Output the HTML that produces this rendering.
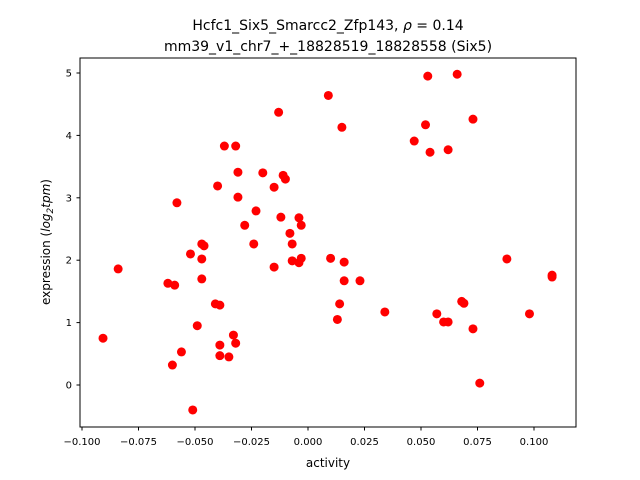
<!DOCTYPE html>
<html><head><meta charset="utf-8"><style>
html,body{margin:0;padding:0;background:#fff;}
svg{display:block;font-family:"DejaVu Sans","Liberation Sans",sans-serif;}
</style></head><body>
<svg id="chart" width="640" height="480" viewBox="0 0 640 480">
<rect width="640" height="480" fill="#fff"/>
<text x="328" y="30" text-anchor="middle" font-size="14">Hcfc1_Six5_Smarcc2_Zfp143, <tspan font-style="italic">ρ</tspan> = 0.14</text>
<text x="328" y="51" text-anchor="middle" font-size="14">mm39_v1_chr7_+_18828519_18828558 (Six5)</text>
<g id="ticks"></g>
<g id="points"></g>
<rect x="80" y="58" width="496" height="369" fill="none" stroke="#000" stroke-width="1"/>
<text x="328" y="467" text-anchor="middle" font-size="12">activity</text>
<text transform="translate(50,242) rotate(-90)" text-anchor="middle" font-size="12">expression (<tspan font-style="italic">log</tspan><tspan font-style="italic" font-size="9" dy="3">2</tspan><tspan font-style="italic" dy="-3">tpm</tspan>)</text>
</svg>
<script>
const activity=[-0.0907,-0.084,-0.062,-0.059,-0.058,-0.060,-0.056,-0.052,-0.051,-0.049,-0.047,-0.046,-0.047,-0.047,-0.041,-0.039,-0.040,-0.039,-0.039,-0.037,-0.035,-0.033,-0.032,-0.032,-0.031,-0.031,-0.028,-0.024,-0.023,-0.020,-0.015,-0.015,-0.013,-0.012,-0.011,-0.010,-0.008,-0.007,-0.007,-0.004,-0.004,-0.003,-0.003,0.009,0.010,0.013,0.014,0.015,0.016,0.016,0.023,0.034,0.047,0.052,0.053,0.054,0.057,0.060,0.062,0.062,0.066,0.068,0.069,0.073,0.073,0.076,0.088,0.098,0.108,0.108];
const expression=[0.75,1.86,1.63,1.60,2.92,0.32,0.53,2.10,-0.40,0.95,2.26,2.23,2.02,1.70,1.30,1.28,3.19,0.64,0.47,3.83,0.45,0.80,0.67,3.83,3.41,3.01,2.56,2.26,2.79,3.40,3.17,1.89,4.37,2.69,3.36,3.30,2.43,2.26,1.99,1.96,2.68,2.56,2.03,4.64,2.03,1.05,1.30,4.13,1.97,1.67,1.67,1.17,3.91,4.17,4.95,3.73,1.14,1.01,1.01,3.77,4.98,1.34,1.31,4.26,0.90,0.03,2.02,1.14,1.76,1.73];
const xTicks=[-0.100,-0.075,-0.050,-0.025,0.000,0.025,0.050,0.075,0.100];
const xTickLabels=["−0.100","−0.075","−0.050","−0.025","0.000","0.025","0.050","0.075","0.100"];
const yTicks=[0,1,2,3,4,5];
const yTickLabels=["0","1","2","3","4","5"];
const NS="http://www.w3.org/2000/svg";
function xs(v){return 308+2260*v;}
function ys(v){return 385-62.4*v;}
const tg=document.getElementById('ticks');
xTicks.forEach((t,i)=>{
  const x=xs(t);
  const l=document.createElementNS(NS,'line');
  l.setAttribute('x1',x);l.setAttribute('x2',x);l.setAttribute('y1',427);l.setAttribute('y2',430.5);l.setAttribute('stroke','#000');
  
  
  tg.appendChild(l);
  const tx=document.createElementNS(NS,'text');
  tx.setAttribute('x',x);tx.setAttribute('y',445);tx.setAttribute('text-anchor','middle');tx.setAttribute('font-size','10');
  tx.textContent=xTickLabels[i];
  
  
  tg.appendChild(tx);
});
yTicks.forEach((t,i)=>{
  const y=ys(t);
  const l=document.createElementNS(NS,'line');
  l.setAttribute('x1',76.5);l.setAttribute('x2',80);l.setAttribute('y1',y);l.setAttribute('y2',y);l.setAttribute('stroke','#000');
  
  
  tg.appendChild(l);
  const tx=document.createElementNS(NS,'text');
  tx.setAttribute('x',72);tx.setAttribute('y',y+3.5);tx.setAttribute('text-anchor','end');tx.setAttribute('font-size','10');
  tx.textContent=yTickLabels[i];
  
  
  tg.appendChild(tx);
});
const pg=document.getElementById('points');
activity.forEach((a,i)=>{
  const c=document.createElementNS(NS,'circle');
  c.setAttribute('cx',xs(a));c.setAttribute('cy',ys(expression[i]));c.setAttribute('r',4.5);c.setAttribute('fill','#ff0000');
  
  
  pg.appendChild(c);
});
</script>
</body></html>
